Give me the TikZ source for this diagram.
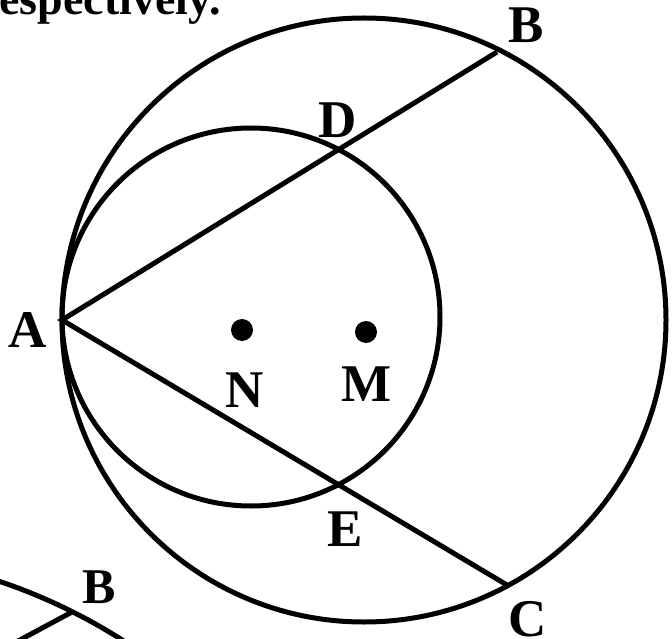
\documentclass[tikz,border=0pt]{standalone}
\usepackage{fontspec}
\setmainfont{Liberation Serif}
\begin{document}
\begin{tikzpicture}[x=1pt,y=-1pt,line width=5pt,line join=miter,
  lbl/.style={font=\fontsize{53}{60}\selectfont\bfseries,anchor=base,inner sep=0pt},
  dotn/.style={circle,fill=black,draw=none,minimum size=22pt,inner sep=0pt}]
\useasboundingbox (0,0) rectangle (672,639);
\clip (0,0) rectangle (672,639);
% top text (cut off)
\node[font=\fontsize{46}{50}\selectfont\bfseries,anchor=base west,inner sep=0pt] (txt) at (-3,15) {espectively.};
% centres and points
\coordinate (Mc) at (364,320);
\coordinate (Nc) at (251,317);
\coordinate (A) at (62,320);
\coordinate (B) at (497,52);
\coordinate (C) at (507,585);
\coordinate (D) at (338.7,149.5);
\coordinate (E) at (338.4,484.6);
% circles
\draw (Mc) circle[radius=302pt];
\draw (Nc) circle[radius=189pt];
% chords
\draw (B) -- (D) -- (A) -- (E) -- (C);
% centre dots
\node[dotn] (N) at (242,330) {};
\node[dotn] (M) at (366,332) {};
% labels
\node[lbl] (lA) at (28,347) {A};
\node[lbl] (lB) at (526,43) {B};
\node[lbl] (lC) at (528,636) {C};
\node[lbl] (lD) at (338,138) {D};
\node[lbl] (lE) at (345,546) {E};
\node[lbl] (lN) at (245,407) {N};
\node[lbl] (lM) at (367,401) {M};
% partial second figure at bottom left
\coordinate (Oc) at (-181,1118);
\coordinate (B2) at (72,612);
\coordinate (L2) at (-8,655);
\draw (Oc) circle[radius=566pt];
\draw (B2) -- (L2);
\node[lbl,font=\fontsize{50}{56}\selectfont\bfseries] (lB2) at (99,603) {B};
\end{tikzpicture}
\end{document}
